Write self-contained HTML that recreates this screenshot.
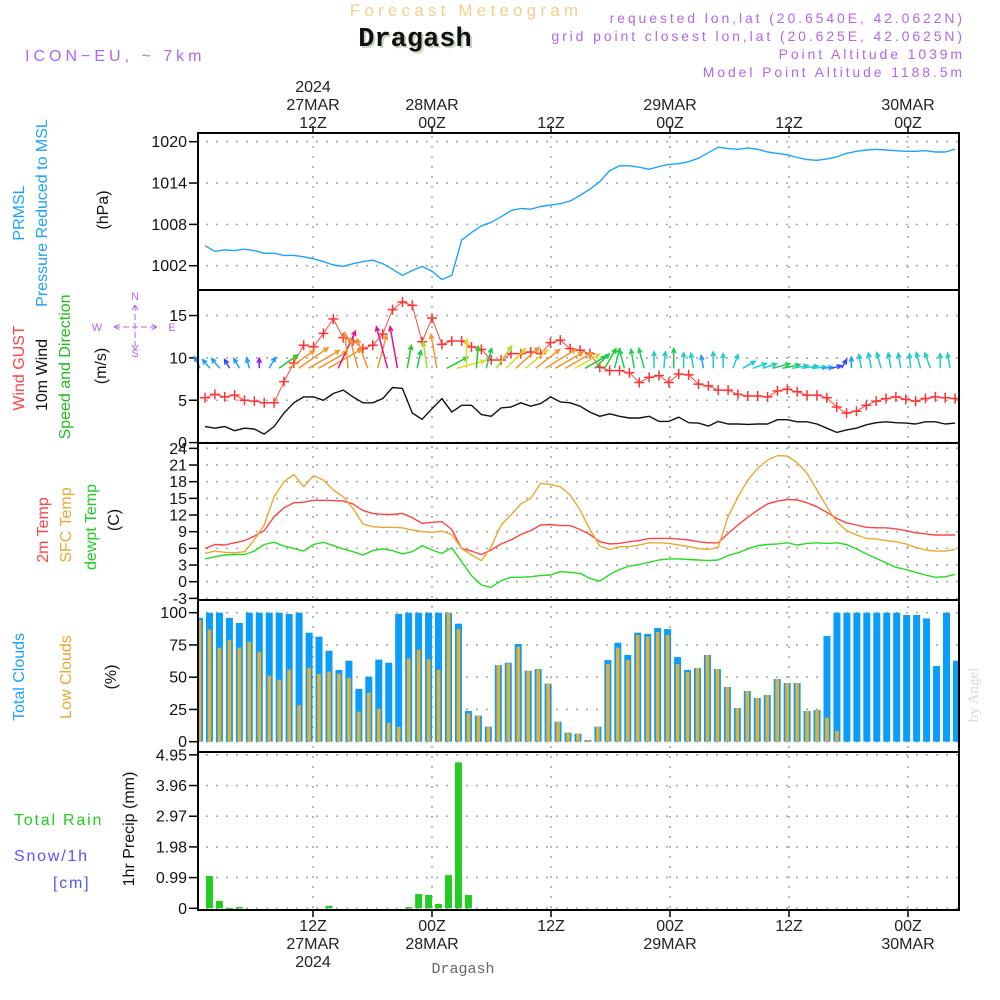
<!DOCTYPE html>
<html><head><meta charset="utf-8"><title>Forecast Meteogram - Dragash</title>
<style>
html,body{margin:0;padding:0;background:#fff;}
svg{display:block;}
text{font-family:"Liberation Sans",sans-serif;}
</style></head>
<body>
<svg id="chart" width="1000" height="1000" viewBox="0 0 1000 1000" xmlns="http://www.w3.org/2000/svg">
<rect x="0" y="0" width="1000" height="1000" fill="#fff"/>
<text x="466" y="16" text-anchor="middle" font-size="17" fill="#f3cf8e" letter-spacing="4.2">Forecast Meteogram</text>
<text x="417" y="48" text-anchor="middle" font-size="27" font-weight="bold" fill="#c8d8c0" style="font-family:'Liberation Mono',monospace">Dragash</text>
<text x="415" y="46" text-anchor="middle" font-size="27" font-weight="bold" fill="#111" style="font-family:'Liberation Mono',monospace">Dragash</text>
<text x="25" y="61" font-size="16" fill="#b066ee" letter-spacing="4">ICON−EU,  ~  7km</text>
<text x="965" y="23" text-anchor="end" font-size="14" fill="#b066ee" letter-spacing="2.9">requested lon,lat (20.6540E, 42.0622N)</text>
<text x="965" y="41" text-anchor="end" font-size="14" fill="#b066ee" letter-spacing="2.9">grid point closest lon,lat (20.625E, 42.0625N)</text>
<text x="965" y="59" text-anchor="end" font-size="14" fill="#b066ee" letter-spacing="2.9">Point Altitude 1039m</text>
<text x="965" y="77" text-anchor="end" font-size="14" fill="#b066ee" letter-spacing="2.9">Model Point Altitude 1188.5m</text>
<text x="978" y="695" text-anchor="middle" font-size="15" fill="#d4dcd4" transform="rotate(-90 978 695)" style="font-family:'Liberation Serif',serif">by Angel</text>
<text x="463" y="973" text-anchor="middle" font-size="15" fill="#666" style="font-family:'Liberation Mono',monospace">Dragash</text>
<g id="layer"></g>
</svg>
<script>
// ---- data (hourly, 77 points) ----
const pressure = [1004.9,1004.1,1004.3,1004.2,1004.4,1004.2,1003.8,1003.8,1003.5,1003.5,1003.3,1003.0,1002.6,1002.1,1001.9,1002.3,1002.6,1002.8,1002.3,1001.5,1000.6,1001.3,1001.9,1001.2,1000.0,1000.6,1005.7,1006.8,1007.8,1008.3,1009.1,1010.0,1010.3,1010.2,1010.6,1010.8,1011.0,1011.4,1012.2,1013.1,
1014.2,1015.8,1016.5,1016.5,1016.3,1016.0,1016.4,1016.7,1016.8,1017.1,1017.6,1018.4,1019.2,1019.0,1018.9,1019.1,1018.9,1018.5,1018.3,1018.1,1017.7,1017.4,1017.3,1017.5,1017.8,1018.3,1018.6,1018.8,1018.9,1018.8,1018.7,1018.6,1018.6,1018.7,1018.5,1018.5,1018.9];
const gust = [5.3,5.7,5.4,5.6,5.0,4.9,4.7,4.7,7.2,9.4,11.5,11.3,12.9,14.6,12.4,12.0,11.1,11.5,12.8,15.7,16.6,16.2,11.9,14.7,11.6,12.0,12.0,11.3,11.0,9.75,9.75,10.5,10.5,10.7,10.5,11.8,12.1,11.1,10.9,10.5,
8.9,8.5,8.5,8.25,7.1,7.7,7.9,7.1,8.1,8.0,6.9,6.7,6.2,6.2,5.7,5.5,5.5,5.4,6.1,6.3,6.0,5.6,5.6,5.3,4.2,3.5,3.7,4.4,4.9,5.2,5.4,5.1,4.9,5.2,5.4,5.3,5.2];
const windSpeed = [1.9,1.7,1.9,1.4,1.7,1.6,1.0,1.9,3.5,4.7,5.4,5.4,5.0,5.8,6.2,5.4,4.7,4.7,5.2,6.5,6.4,3.5,2.75,4.0,5.2,3.6,4.4,4.4,3.3,3.1,4.1,4.2,4.7,4.3,4.6,5.4,4.8,4.7,4.3,3.6,
3.1,3.4,3.1,2.9,2.9,3.1,2.5,2.5,3.0,2.35,2.3,1.95,2.5,2.2,2.2,2.15,2.2,2.2,2.7,2.7,2.45,2.45,2.2,1.7,1.2,1.5,1.7,2.1,2.35,2.45,2.35,2.3,2.2,2.45,2.45,2.2,2.3];
const windDir = [-25,-40,-40,-30,-30,-15,0,30,55,55,55,60,60,60,25,-5,-15,-20,15,-15,-10,10,12,-8,-10,62,75,0,5,15,35,45,48,50,52,58,60,60,60,60,
45,30,15,-15,-10,-15,0,5,0,0,-10,-10,0,0,20,60,70,72,75,78,80,82,85,85,75,30,0,-10,-10,-15,-10,-10,-5,-15,-20,0,-10];
const temp2m = [6.0,6.7,6.6,7.0,7.4,8.2,9.2,11.7,13.3,14.2,14.3,14.65,14.65,14.6,14.5,14.0,12.8,12.3,12.1,12.1,12.3,11.5,10.5,10.7,10.8,9.4,6.0,5.5,4.9,5.7,6.8,7.5,8.5,9.2,10.2,10.3,10.1,10.1,9.4,8.5,
7.2,6.8,6.9,7.2,7.4,7.8,7.8,7.8,7.7,7.5,7.2,7.0,7.0,8.7,10.2,11.6,12.9,14.0,14.5,14.8,14.7,14.2,13.5,12.5,11.4,10.6,10.2,9.8,9.7,9.7,9.5,9.2,8.8,8.6,8.4,8.4,8.4];
const tempSfc = [5.1,5.5,5.3,5.2,5.4,7.5,10.2,15.3,18.0,19.3,17.1,19.1,18.3,16.5,15.3,13.2,10.4,9.9,9.8,9.8,9.7,9.3,9.0,8.9,9.1,8.5,6.0,4.8,3.8,6.3,10.2,12.0,14.0,15.0,17.7,17.5,17.1,15.6,12.9,9.4,
6.4,5.8,6.3,6.3,6.6,7.0,7.0,6.9,6.6,6.3,6.0,5.8,6.2,11.7,15.3,18.3,20.4,21.9,22.7,22.6,21.4,19.5,16.5,13.5,10.8,9.2,8.4,7.8,7.7,7.4,7.2,6.8,6.2,5.7,5.5,5.5,5.8];
const dewpoint = [4.1,4.5,4.8,4.9,4.9,5.5,6.7,7.1,6.4,6.0,5.5,6.7,7.1,6.5,5.9,5.4,4.8,5.6,5.9,5.6,5.0,5.4,6.5,5.7,5.1,6.1,3.6,1.1,-0.6,-1.0,0.2,0.8,0.8,0.9,1.1,1.2,1.8,1.7,1.5,0.6,
0.1,1.3,2.2,2.8,3.1,3.5,3.9,4.1,4.1,4.0,3.9,3.8,3.9,4.7,5.2,5.9,6.5,6.7,6.8,7.0,6.6,6.9,7.0,6.9,7.0,6.7,5.9,5.0,4.2,3.4,2.6,2.2,1.7,1.2,0.8,0.9,1.3];
const totalClouds = [96,100,100,96,92,100,100,100,100,99,100,84.5,81.4,70.5,55.6,62.8,41,50.4,63.6,61.2,99,100,100,100,100,100,91.5,23.8,20.2,11.6,59.4,61.2,75.7,55,56.3,45,15.5,7,6.2,1.3,
11.6,63.3,76.7,67.2,84.5,83.5,88.1,87.3,65.6,55.6,57.1,67.2,56.3,42.4,26.1,39.3,33.9,36.2,48.6,45.5,45.5,23.8,24.5,81.9,100,100,100,100,100,100,100,98.2,98.2,95.6,58.7,100,62.8,5.2];
const lowClouds = [94.3,86.8,72.9,79,72.9,77.5,69.8,51.2,48,55.8,28.4,57.4,52.5,54.3,52.7,49.6,23.3,38,25.6,14.5,11.6,64.3,71.3,64,55.8,100,87.3,22,20,11.6,59.4,60.7,73.6,55,56,45,15.5,7,6.2,1.3,
11.6,60.2,72.9,63.3,82.7,81.4,85,82.7,60.2,54,57.1,67.2,56.3,42.4,26.1,39.3,33.9,36.2,48.6,45.5,45.5,23.8,24.5,18.6,8.3,0,0,0,0,0,0,0,0,0,0,0,0];
const rain = [0,1.04,0.24,0.01,0.04,0,0,0,0,0,0,0,0,0.08,0,0,0,0,0,0,0,0.04,0.46,0.43,0.14,1.07,4.71,0.43,0,0,0,0,0,0,0,0,0,0,0,0,
0,0,0,0,0,0,0,0,0,0,0,0,0,0,0,0,0,0,0,0,0,0,0,0,0,0,0,0,0,0,0,0,0,0,0,0,0];
const pressureTicks = [1002,1008,1014,1020];
const windTicks = [0,5,10,15];
const tempTicks = [-3,0,3,6,9,12,15,18,21,24];
const cloudTicks = [0,25,50,75,100];
const rainTicks = [0,0.99,1.98,2.97,3.96,4.95];
const timeTicks = ["12Z","00Z","12Z","00Z","12Z","00Z"];
const timeDays = ["27MAR","28MAR","","29MAR","","30MAR"];

// ---- axes ----
const L=198, R=959;
const xLine = i => 205 + i*9.87;
const xBar = i => 199.5 + i*9.96;
const xTick = k => 313 + k*119;
const yP = p => 141.7 + (1020-p)*6.89;
const yW = v => 442.6 - v*8.47;
const yT = t => 581.7 - t*5.556;
const yC = c => 741.7 - c*1.29;
const yR = r => 908.3 - r*31.0;
const panels=[[133,290,'pressure'],[290,443,'wind'],[443,600,'temperature'],[600,752,'clouds'],[752,910,'precip']];

const NS='http://www.w3.org/2000/svg';
const layer=document.getElementById('layer');
function mk(tag,attrs,parent){const e=document.createElementNS(NS,tag);for(const k in attrs)e.setAttribute(k,attrs[k]);(parent||layer).appendChild(e);return e;}

const defs=mk('defs',{});
const cp=mk('clipPath',{id:'plotclip'},defs);
mk('rect',{x:L,y:133,width:R-L-1,height:777},cp);

// grids
const grid=mk('g',{stroke:'#a8a8a8','stroke-width':1.6,'stroke-dasharray':'2 8',fill:'none'});


for(let k=0;k<timeTicks.length;k++){
  const gl=mk('line',{x1:xTick(k),x2:xTick(k),y1:136,y2:908},grid);
  
  
}
function hgrid(ticks,fy){for(const t of ticks){const y=fy(t);const gl=mk('line',{x1:L+8,x2:R,y1:y,y2:y},grid);
  
  }}
hgrid(pressureTicks,yP);hgrid(windTicks,yW);hgrid(tempTicks,yT);hgrid(cloudTicks,yC);hgrid(rainTicks,yR);

function yticks(ticks,fy,name){const g=mk('g',{});
  
  
  for(const t of ticks){const y=fy(t);
    mk('line',{x1:189,x2:L,y1:y,y2:y,stroke:'#000','stroke-width':1.5},g);
    const tx=mk('text',{x:187,y:y+5.5,'text-anchor':'end','font-size':16,fill:'#111'},g);
    tx.textContent=(name==='precip-y-ticks'&&t===0)?'0':(name==='precip-y-ticks'?t.toFixed(2):String(t));
    
    }}
yticks(pressureTicks,yP,'pressure-y-ticks');yticks(windTicks,yW,'wind-y-ticks');yticks(tempTicks,yT,'temp-y-ticks');yticks(cloudTicks,yC,'cloud-y-ticks');yticks(rainTicks,yR,'precip-y-ticks');

// clouds bars
const cg=mk('g',{'clip-path':'url(#plotclip)'});


totalClouds.forEach((v,i)=>{const b=mk('rect',{x:xBar(i)-3.5,y:yC(v),width:7,height:yC(0)-yC(v),fill:'#0a9dfa'},cg);
  
  });
lowClouds.forEach((v,i)=>{if(v<=0)return;const b=mk('rect',{x:xBar(i)-1.8,y:yC(v),width:3.6,height:yC(0)-yC(v),fill:'#e8ae2e'},cg);
  
  });

// rain bars
const rg=mk('g',{'clip-path':'url(#plotclip)'});


rain.forEach((v,i)=>{if(v<=0)return;const b=mk('rect',{x:xBar(i)-3.5,y:yR(v),width:7,height:Math.max(yR(0)-yR(v),1.5),fill:'#22cc22'},rg);
  
  });

function line(arr,fy,color,name,w){const d=arr.map((v,i)=>(i?'L':'M')+xLine(i).toFixed(1)+' '+fy(v).toFixed(1)).join(' ');
  const p=mk('path',{d:d,fill:'none',stroke:color,'stroke-width':w||1.4,'stroke-linejoin':'round','clip-path':'url(#plotclip)'});
  
  return p;}
line(pressure,yP,'#1aa3ff','pressure-line');
line(windSpeed,yW,'#111','wind-speed-line');
line(gust,yW,'#ff4a4a','wind-gust-line',1);
line(temp2m,yT,'#ff4444','temp-2m-line');
line(tempSfc,yT,'#eaa830','temp-sfc-line');
line(dewpoint,yT,'#22dd22','dewpoint-line');

const gm=mk('g',{stroke:'#ff3333','stroke-width':1.5});


gust.forEach((v,i)=>{const x=xLine(i),y=yW(v);
  const m=mk('path',{d:`M${x-5} ${y}H${x+5}M${x} ${y-5}V${y+5}`},gm);
  
  });

function wcol(s){if(s<1.2)return'#8a1aff';if(s<1.6)return'#3344ff';if(s<2.05)return'#1e9bff';if(s<2.6)return'#1fcccc';if(s<3.2)return'#1ccc5a';if(s<3.8)return'#22cc22';if(s<4.2)return'#a8e02a';if(s<4.5)return'#e0d82a';if(s<6.0)return'#f0962a';return'#ee1188';}
const wa=mk('g',{'stroke-width':1.5,fill:'none'});


windDir.forEach((a,i)=>{const s=windSpeed[i];const len=Math.max(6.6*s,10);const r=a*Math.PI/180;
  const x0=xLine(i)-5,y0=368.3;const x1=x0+len*Math.sin(r),y1=y0-len*Math.cos(r);
  const h=5,b1=r+Math.PI-0.45,b2=r+Math.PI+0.45;
  const d=`M${x0} ${y0}L${x1} ${y1}M${x1+h*Math.sin(b1)} ${y1-h*Math.cos(b1)}L${x1} ${y1}L${x1+h*Math.sin(b2)} ${y1-h*Math.cos(b2)}`;
  const p=mk('path',{d:d,stroke:wcol(s)},wa);
  
  });

for(const [t,b,n] of panels){const f=mk('rect',{x:L,y:t,width:R-L,height:b-t,fill:'none',stroke:'#000','stroke-width':2});
  
  }

for(let k=0;k<timeTicks.length;k++){const x=xTick(k);
  mk('line',{x1:x,x2:x,y1:126,y2:133,stroke:'#000','stroke-width':1.5});
  mk('line',{x1:x,x2:x,y1:910,y2:917,stroke:'#000','stroke-width':1.5});
  const t=mk('text',{x:x,y:128,'text-anchor':'middle','font-size':16,fill:'#222'});t.textContent=timeTicks[k];
  
  
  const b=mk('text',{x:x,y:931,'text-anchor':'middle','font-size':16,fill:'#222'});b.textContent=timeTicks[k];
  
  
  if(timeDays[k]){const td=mk('text',{x:x,y:110,'text-anchor':'middle','font-size':16,fill:'#222'});td.textContent=timeDays[k];
    
    
    const bd=mk('text',{x:x,y:949,'text-anchor':'middle','font-size':16,fill:'#222'});bd.textContent=timeDays[k];
    
    }
}
const y1=mk('text',{x:313,y:92,'text-anchor':'middle','font-size':16,fill:'#222'});y1.textContent='2024';


const y2=mk('text',{x:313,y:967,'text-anchor':'middle','font-size':16,fill:'#222'});y2.textContent='2024';



function vt(txt,x,y,color,name,size){const t=mk('text',{x:x,y:y,'text-anchor':'middle','font-size':size||16,fill:color,transform:`rotate(-90 ${x} ${y})`});t.textContent=txt;
  
  return t;}
vt('PRMSL',24,213,'#1aa3ff','prmsl-label');
vt('Pressure Reduced to MSL',47,213,'#1aa3ff','pressure-title');
vt('(hPa)',108,210,'#111','pressure-unit');
vt('Wind GUST',24,368,'#ff4444','gust-label');
vt('10m Wind',47,375,'#111','wind-label');
vt('Speed and Direction',70,367,'#22bb22','wind-direction-label');
vt('(m/s)',106,366,'#111','wind-unit');
vt('2m Temp',48,530,'#ff4444','temp-2m-label');
vt('SFC Temp',71,525,'#eaa830','temp-sfc-label');
vt('dewpt Temp',96,527,'#22cc22','dewpoint-label');
vt('(C)',119,520,'#111','temp-unit');
vt('Total Clouds',24,677,'#1aa3ff','total-clouds-label');
vt('Low Clouds',71,677,'#eaa830','low-clouds-label');
vt('(%)',116,677,'#111','cloud-unit');
vt('1hr Precip (mm)',134,829,'#111','precip-title');

const cmp=mk('g',{fill:'#b066ee','font-size':11});


[['N',135,300],['S',135,357],['W',97,331],['E',172,331]].forEach(([s,x,y])=>{const t=mk('text',{x:x,y:y,'text-anchor':'middle'},cmp);t.textContent=s;});
mk('path',{d:'M114 327H157M114 327l6-3M114 327l6 3M157 327l-6-3M157 327l-6 3M135 305V350M135 305l-3 5M135 305l3 5M135 350l-3-5M135 350l3-5',stroke:'#b066ee','stroke-width':1,'stroke-dasharray':'6 3',fill:'none'},cmp);

function ht(txt,x,y,color,name,ls){const t=mk('text',{x:x,y:y,'font-size':16,fill:color,'letter-spacing':ls||1.5});t.textContent=txt;
  
  }
ht('Total   Rain',14,825,'#22cc22','rain-legend',1.8);
ht('Snow/1h',14,861,'#5555ff','snow-legend',1.8);
ht('[cm]',53,888,'#5555ff','snow-unit',1.8);
</script>
</body></html>
